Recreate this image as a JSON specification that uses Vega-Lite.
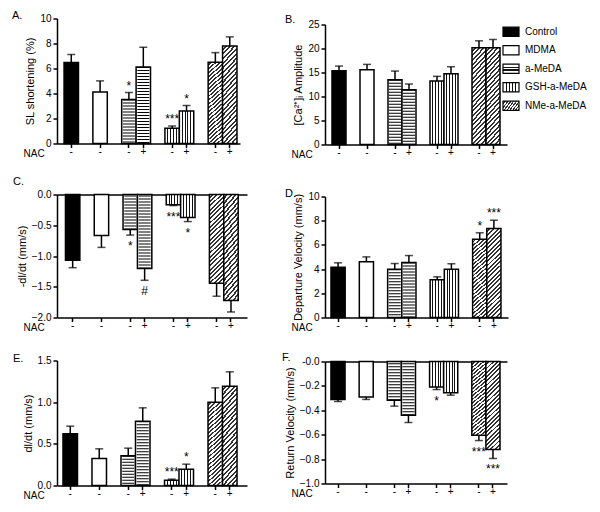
{
"$schema":"https://vega.github.io/schema/vega-lite/v6.json",
"background":"white",
"padding":{"left":12,"top":8.5,"right":5,"bottom":5},
"spacing":35,
"config":{
 "font":"Liberation Sans",
 "view":{"stroke":null},
 "axis":{"domainColor":"#000","domainWidth":1.5,"tickColor":"#000","tickWidth":1.5,"labelColor":"#000","labelFontSize":10,"titleColor":"#000","titleFontSize":11,"titleFontWeight":"normal","grid":false,"labelFont":"Liberation Sans","titleFont":"Liberation Sans"},
 "axisX":{"labelAngle":0,"titleAngle":0,"titleAlign":"left","titleBaseline":"middle","titleX":-34,"titleY":10,"titleFontSize":10,"tickSize":4,"labelPadding":4,"labelBaseline":"middle"},
 "axisY":{"tickSize":4,"labelPadding":2,"titlePadding":4},
 "title":{"anchor":"start","frame":"group","fontSize":11,"fontWeight":"normal","font":"Liberation Sans","color":"#000"}
},
"hconcat":[
 {"spacing":0,"vconcat":[
  {"width":1,"height":1,"data":{"values":[]},"mark":"point"},
  {"spacing":20,"vconcat":[
  {"spacing":17,"vconcat":[
   {
    "title":{"text":"A.","dx":-45,"offset":-7.4},
    "width":183,"height":125,
    "data":{"values":[
     {"grp":"Control","cat":"Control -","value":6.48,"cap":7.12},
     {"grp":"MDMA","cat":"MDMA -","value":4.13,"cap":5.01},
     {"grp":"a-MeDA","cat":"a-MeDA -","value":3.52,"cap":4.08,"sig":"*"},
     {"grp":"a-MeDA","cat":"a-MeDA +","value":6.13,"cap":7.7},
     {"grp":"GSH-a-MeDA","cat":"GSH-a-MeDA -","value":1.22,"cap":1.4,"sig":"***"},
     {"grp":"GSH-a-MeDA","cat":"GSH-a-MeDA +","value":2.6,"cap":3.04,"sig":"*"},
     {"grp":"NMe-a-MeDA","cat":"NMe-a-MeDA -","value":6.5,"cap":7.27},
     {"grp":"NMe-a-MeDA","cat":"NMe-a-MeDA +","value":7.8,"cap":8.53}
    ]},
    "encoding":{
     "x":{"field":"cat","type":"nominal","scale":{"domain":["Control -","g1","MDMA -","g2","a-MeDA -","a-MeDA +","g3","GSH-a-MeDA -","GSH-a-MeDA +","g4","NMe-a-MeDA -","NMe-a-MeDA +"],"paddingInner":0,"paddingOuter":0.35,"align":0.7},"axis":{"values":["Control -","MDMA -","a-MeDA -","a-MeDA +","GSH-a-MeDA -","GSH-a-MeDA +","NMe-a-MeDA -","NMe-a-MeDA +"],"labelExpr":"slice(datum.value,-1)","title":"NAC"}},
     "y":{"field":"value","type":"quantitative","scale":{"domain":[0,10],"nice":false},"axis":{"values":[0,2,4,6,8,10],"title":"SL shortening (%)"}}
    },
    "layer":[
     {"transform":[{"filter":"datum.grp=='Control' || datum.grp=='MDMA' || datum.grp=='a-MeDA'"}],"mark":{"type":"bar","stroke":"#000","strokeWidth":1.5},"encoding":{"fill":{"condition":{"test":"datum.grp=='Control'","value":"#000"},"value":"#fff"}}},
     {"transform":[{"filter":"datum.grp=='GSH-a-MeDA'"}],"mark":{"type":"bar","stroke":"#000","strokeWidth":1.5,"fill":{"gradient":"linear","x1":0,"y1":0,"x2":1,"y2":0,"stops":[{"offset":0,"color":"#fff"},{"offset":0.165,"color":"#fff"},{"offset":0.165,"color":"#111"},{"offset":0.235,"color":"#111"},{"offset":0.235,"color":"#fff"},{"offset":0.365,"color":"#fff"},{"offset":0.365,"color":"#111"},{"offset":0.435,"color":"#111"},{"offset":0.435,"color":"#fff"},{"offset":0.565,"color":"#fff"},{"offset":0.565,"color":"#111"},{"offset":0.635,"color":"#111"},{"offset":0.635,"color":"#fff"},{"offset":0.765,"color":"#fff"},{"offset":0.765,"color":"#111"},{"offset":0.835,"color":"#111"},{"offset":0.835,"color":"#fff"},{"offset":1,"color":"#fff"}]}}},
     {"transform":[{"filter":"datum.grp=='NMe-a-MeDA'"}],"mark":{"type":"bar","stroke":"#000","strokeWidth":1.5,"fill":{"gradient":"linear","x1":0,"y1":0,"x2":0.178,"y2":1.13,"stops":[{"offset":0,"color":"#fff"},{"offset":0.0229,"color":"#fff"},{"offset":0.0229,"color":"#333"},{"offset":0.0417,"color":"#333"},{"offset":0.0417,"color":"#fff"},{"offset":0.0646,"color":"#fff"},{"offset":0.0646,"color":"#333"},{"offset":0.0833,"color":"#333"},{"offset":0.0833,"color":"#fff"},{"offset":0.1063,"color":"#fff"},{"offset":0.1063,"color":"#333"},{"offset":0.125,"color":"#333"},{"offset":0.125,"color":"#fff"},{"offset":0.1479,"color":"#fff"},{"offset":0.1479,"color":"#333"},{"offset":0.1667,"color":"#333"},{"offset":0.1667,"color":"#fff"},{"offset":0.1896,"color":"#fff"},{"offset":0.1896,"color":"#333"},{"offset":0.2083,"color":"#333"},{"offset":0.2083,"color":"#fff"},{"offset":0.2313,"color":"#fff"},{"offset":0.2313,"color":"#333"},{"offset":0.25,"color":"#333"},{"offset":0.25,"color":"#fff"},{"offset":0.2729,"color":"#fff"},{"offset":0.2729,"color":"#333"},{"offset":0.2917,"color":"#333"},{"offset":0.2917,"color":"#fff"},{"offset":0.3146,"color":"#fff"},{"offset":0.3146,"color":"#333"},{"offset":0.3333,"color":"#333"},{"offset":0.3333,"color":"#fff"},{"offset":0.3563,"color":"#fff"},{"offset":0.3563,"color":"#333"},{"offset":0.375,"color":"#333"},{"offset":0.375,"color":"#fff"},{"offset":0.3979,"color":"#fff"},{"offset":0.3979,"color":"#333"},{"offset":0.4167,"color":"#333"},{"offset":0.4167,"color":"#fff"},{"offset":0.4396,"color":"#fff"},{"offset":0.4396,"color":"#333"},{"offset":0.4583,"color":"#333"},{"offset":0.4583,"color":"#fff"},{"offset":0.4813,"color":"#fff"},{"offset":0.4813,"color":"#333"},{"offset":0.5,"color":"#333"},{"offset":0.5,"color":"#fff"},{"offset":0.5229,"color":"#fff"},{"offset":0.5229,"color":"#333"},{"offset":0.5417,"color":"#333"},{"offset":0.5417,"color":"#fff"},{"offset":0.5646,"color":"#fff"},{"offset":0.5646,"color":"#333"},{"offset":0.5833,"color":"#333"},{"offset":0.5833,"color":"#fff"},{"offset":0.6063,"color":"#fff"},{"offset":0.6063,"color":"#333"},{"offset":0.625,"color":"#333"},{"offset":0.625,"color":"#fff"},{"offset":0.6479,"color":"#fff"},{"offset":0.6479,"color":"#333"},{"offset":0.6667,"color":"#333"},{"offset":0.6667,"color":"#fff"},{"offset":0.6896,"color":"#fff"},{"offset":0.6896,"color":"#333"},{"offset":0.7083,"color":"#333"},{"offset":0.7083,"color":"#fff"},{"offset":0.7313,"color":"#fff"},{"offset":0.7313,"color":"#333"},{"offset":0.75,"color":"#333"},{"offset":0.75,"color":"#fff"},{"offset":0.7729,"color":"#fff"},{"offset":0.7729,"color":"#333"},{"offset":0.7917,"color":"#333"},{"offset":0.7917,"color":"#fff"},{"offset":0.8146,"color":"#fff"},{"offset":0.8146,"color":"#333"},{"offset":0.8333,"color":"#333"},{"offset":0.8333,"color":"#fff"},{"offset":0.8563,"color":"#fff"},{"offset":0.8563,"color":"#333"},{"offset":0.875,"color":"#333"},{"offset":0.875,"color":"#fff"},{"offset":0.8979,"color":"#fff"},{"offset":0.8979,"color":"#333"},{"offset":0.9167,"color":"#333"},{"offset":0.9167,"color":"#fff"},{"offset":0.9396,"color":"#fff"},{"offset":0.9396,"color":"#333"},{"offset":0.9583,"color":"#333"},{"offset":0.9583,"color":"#fff"},{"offset":0.9813,"color":"#fff"},{"offset":0.9813,"color":"#333"},{"offset":1,"color":"#333"}]}}},
     {"transform":[{"filter":"datum.grp=='a-MeDA'"}],"mark":{"type":"rule","color":"#000","strokeWidth":12,"strokeDash":[1,2]},"encoding":{"y2":{"datum":0}}},
     {"mark":{"type":"rule","color":"#000","strokeWidth":1.5},"encoding":{"y2":{"field":"cap"}}},
     {"mark":{"type":"tick","color":"#000","thickness":1.5,"size":8},"encoding":{"y":{"field":"cap","type":"quantitative","title":"SL shortening (%)"}}},
     {"transform":[{"filter":"datum.sig"}],"mark":{"type":"text","dy":-3,"fontSize":12,"baseline":"alphabetic","color":"#000"},"encoding":{"y":{"field":"cap","type":"quantitative","title":"SL shortening (%)"},"text":{"field":"sig"}}}
    ]
   },
   {
    "title":{"text":"C.","dx":-44,"offset":1.8},
    "width":190,"height":123,
    "data":{"values":[
     {"grp":"Control","cat":"Control -","value":-1.07,"cap":-1.19},
     {"grp":"MDMA","cat":"MDMA -","value":-0.665,"cap":-0.86},
     {"grp":"a-MeDA","cat":"a-MeDA -","value":-0.57,"cap":-0.66,"sig":"*"},
     {"grp":"a-MeDA","cat":"a-MeDA +","value":-1.205,"cap":-1.395,"sig":"#"},
     {"grp":"GSH-a-MeDA","cat":"GSH-a-MeDA -","value":-0.165,"cap":-0.18,"sig":"***"},
     {"grp":"GSH-a-MeDA","cat":"GSH-a-MeDA +","value":-0.372,"cap":-0.44,"sig":"*"},
     {"grp":"NMe-a-MeDA","cat":"NMe-a-MeDA -","value":-1.443,"cap":-1.654},
     {"grp":"NMe-a-MeDA","cat":"NMe-a-MeDA +","value":-1.725,"cap":-1.91}
    ]},
    "encoding":{
     "x":{"field":"cat","type":"nominal","scale":{"domain":["Control -","g1","MDMA -","g2","a-MeDA -","a-MeDA +","g3","GSH-a-MeDA -","GSH-a-MeDA +","g4","NMe-a-MeDA -","NMe-a-MeDA +"],"paddingInner":0,"paddingOuter":0.6,"align":0.49},"axis":{"values":["Control -","MDMA -","a-MeDA -","a-MeDA +","GSH-a-MeDA -","GSH-a-MeDA +","NMe-a-MeDA -","NMe-a-MeDA +"],"labelExpr":"slice(datum.value,-1)","title":"NAC"}},
     "y":{"field":"value","type":"quantitative","scale":{"domain":[-2,0],"nice":false},"axis":{"values":[0,-0.5,-1,-1.5,-2],"format":".1f","title":"-dl/dt (mm/s)","grid":true,"gridWidth":1.5,"gridColor":{"condition":{"test":"datum.value === 0","value":"#000"},"value":"transparent"}}}
    },
    "layer":[
     {"transform":[{"filter":"datum.grp=='Control' || datum.grp=='MDMA' || datum.grp=='a-MeDA'"}],"mark":{"type":"bar","stroke":"#000","strokeWidth":1.5},"encoding":{"fill":{"condition":{"test":"datum.grp=='Control'","value":"#000"},"value":"#fff"}}},
     {"transform":[{"filter":"datum.grp=='GSH-a-MeDA'"}],"mark":{"type":"bar","stroke":"#000","strokeWidth":1.5,"fill":{"gradient":"linear","x1":0,"y1":0,"x2":1,"y2":0,"stops":[{"offset":0,"color":"#fff"},{"offset":0.165,"color":"#fff"},{"offset":0.165,"color":"#111"},{"offset":0.235,"color":"#111"},{"offset":0.235,"color":"#fff"},{"offset":0.365,"color":"#fff"},{"offset":0.365,"color":"#111"},{"offset":0.435,"color":"#111"},{"offset":0.435,"color":"#fff"},{"offset":0.565,"color":"#fff"},{"offset":0.565,"color":"#111"},{"offset":0.635,"color":"#111"},{"offset":0.635,"color":"#fff"},{"offset":0.765,"color":"#fff"},{"offset":0.765,"color":"#111"},{"offset":0.835,"color":"#111"},{"offset":0.835,"color":"#fff"},{"offset":1,"color":"#fff"}]}}},
     {"transform":[{"filter":"datum.grp=='NMe-a-MeDA'"}],"mark":{"type":"bar","stroke":"#000","strokeWidth":1.5,"fill":{"gradient":"linear","x1":0,"y1":0,"x2":0.178,"y2":1.13,"stops":[{"offset":0,"color":"#fff"},{"offset":0.0229,"color":"#fff"},{"offset":0.0229,"color":"#333"},{"offset":0.0417,"color":"#333"},{"offset":0.0417,"color":"#fff"},{"offset":0.0646,"color":"#fff"},{"offset":0.0646,"color":"#333"},{"offset":0.0833,"color":"#333"},{"offset":0.0833,"color":"#fff"},{"offset":0.1063,"color":"#fff"},{"offset":0.1063,"color":"#333"},{"offset":0.125,"color":"#333"},{"offset":0.125,"color":"#fff"},{"offset":0.1479,"color":"#fff"},{"offset":0.1479,"color":"#333"},{"offset":0.1667,"color":"#333"},{"offset":0.1667,"color":"#fff"},{"offset":0.1896,"color":"#fff"},{"offset":0.1896,"color":"#333"},{"offset":0.2083,"color":"#333"},{"offset":0.2083,"color":"#fff"},{"offset":0.2313,"color":"#fff"},{"offset":0.2313,"color":"#333"},{"offset":0.25,"color":"#333"},{"offset":0.25,"color":"#fff"},{"offset":0.2729,"color":"#fff"},{"offset":0.2729,"color":"#333"},{"offset":0.2917,"color":"#333"},{"offset":0.2917,"color":"#fff"},{"offset":0.3146,"color":"#fff"},{"offset":0.3146,"color":"#333"},{"offset":0.3333,"color":"#333"},{"offset":0.3333,"color":"#fff"},{"offset":0.3563,"color":"#fff"},{"offset":0.3563,"color":"#333"},{"offset":0.375,"color":"#333"},{"offset":0.375,"color":"#fff"},{"offset":0.3979,"color":"#fff"},{"offset":0.3979,"color":"#333"},{"offset":0.4167,"color":"#333"},{"offset":0.4167,"color":"#fff"},{"offset":0.4396,"color":"#fff"},{"offset":0.4396,"color":"#333"},{"offset":0.4583,"color":"#333"},{"offset":0.4583,"color":"#fff"},{"offset":0.4813,"color":"#fff"},{"offset":0.4813,"color":"#333"},{"offset":0.5,"color":"#333"},{"offset":0.5,"color":"#fff"},{"offset":0.5229,"color":"#fff"},{"offset":0.5229,"color":"#333"},{"offset":0.5417,"color":"#333"},{"offset":0.5417,"color":"#fff"},{"offset":0.5646,"color":"#fff"},{"offset":0.5646,"color":"#333"},{"offset":0.5833,"color":"#333"},{"offset":0.5833,"color":"#fff"},{"offset":0.6063,"color":"#fff"},{"offset":0.6063,"color":"#333"},{"offset":0.625,"color":"#333"},{"offset":0.625,"color":"#fff"},{"offset":0.6479,"color":"#fff"},{"offset":0.6479,"color":"#333"},{"offset":0.6667,"color":"#333"},{"offset":0.6667,"color":"#fff"},{"offset":0.6896,"color":"#fff"},{"offset":0.6896,"color":"#333"},{"offset":0.7083,"color":"#333"},{"offset":0.7083,"color":"#fff"},{"offset":0.7313,"color":"#fff"},{"offset":0.7313,"color":"#333"},{"offset":0.75,"color":"#333"},{"offset":0.75,"color":"#fff"},{"offset":0.7729,"color":"#fff"},{"offset":0.7729,"color":"#333"},{"offset":0.7917,"color":"#333"},{"offset":0.7917,"color":"#fff"},{"offset":0.8146,"color":"#fff"},{"offset":0.8146,"color":"#333"},{"offset":0.8333,"color":"#333"},{"offset":0.8333,"color":"#fff"},{"offset":0.8563,"color":"#fff"},{"offset":0.8563,"color":"#333"},{"offset":0.875,"color":"#333"},{"offset":0.875,"color":"#fff"},{"offset":0.8979,"color":"#fff"},{"offset":0.8979,"color":"#333"},{"offset":0.9167,"color":"#333"},{"offset":0.9167,"color":"#fff"},{"offset":0.9396,"color":"#fff"},{"offset":0.9396,"color":"#333"},{"offset":0.9583,"color":"#333"},{"offset":0.9583,"color":"#fff"},{"offset":0.9813,"color":"#fff"},{"offset":0.9813,"color":"#333"},{"offset":1,"color":"#333"}]}}},
     {"transform":[{"filter":"datum.grp=='a-MeDA'"}],"mark":{"type":"rule","color":"#000","strokeWidth":12,"strokeDash":[1,2]},"encoding":{"y2":{"datum":0}}},
     {"mark":{"type":"rule","color":"#000","strokeWidth":1.5},"encoding":{"y2":{"field":"cap"}}},
     {"mark":{"type":"tick","color":"#000","thickness":1.5,"size":8},"encoding":{"y":{"field":"cap","type":"quantitative","title":"-dl/dt (mm/s)"}}},
     {"transform":[{"filter":"datum.sig"}],"mark":{"type":"text","dy":15,"fontSize":12,"baseline":"alphabetic","color":"#000"},"encoding":{"y":{"field":"cap","type":"quantitative","title":"-dl/dt (mm/s)"},"text":{"field":"sig"}}}
    ]
   }
  ]},
  {
   "title":{"text":"E.","dx":-44,"offset":-8.9},
   "width":190,"height":125,
   "data":{"values":[
    {"grp":"Control","cat":"Control -","value":0.62,"cap":0.712},
    {"grp":"MDMA","cat":"MDMA -","value":0.324,"cap":0.44},
    {"grp":"a-MeDA","cat":"a-MeDA -","value":0.356,"cap":0.448},
    {"grp":"a-MeDA","cat":"a-MeDA +","value":0.772,"cap":0.932},
    {"grp":"GSH-a-MeDA","cat":"GSH-a-MeDA -","value":0.064,"cap":0.076,"sig":"***"},
    {"grp":"GSH-a-MeDA","cat":"GSH-a-MeDA +","value":0.196,"cap":0.256,"sig":"*"},
    {"grp":"NMe-a-MeDA","cat":"NMe-a-MeDA -","value":1.0,"cap":1.172},
    {"grp":"NMe-a-MeDA","cat":"NMe-a-MeDA +","value":1.192,"cap":1.364}
   ]},
   "encoding":{
    "x":{"field":"cat","type":"nominal","scale":{"domain":["Control -","g1","MDMA -","g2","a-MeDA -","a-MeDA +","g3","GSH-a-MeDA -","GSH-a-MeDA +","g4","NMe-a-MeDA -","NMe-a-MeDA +"],"paddingInner":0,"paddingOuter":0.55,"align":0.375},"axis":{"values":["Control -","MDMA -","a-MeDA -","a-MeDA +","GSH-a-MeDA -","GSH-a-MeDA +","NMe-a-MeDA -","NMe-a-MeDA +"],"labelExpr":"slice(datum.value,-1)","title":"NAC"}},
    "y":{"field":"value","type":"quantitative","scale":{"domain":[0,1.5],"nice":false},"axis":{"values":[0,0.5,1,1.5],"format":".1f","title":"dl/dt (mm/s)"}}
   },
   "layer":[
    {"transform":[{"filter":"datum.grp=='Control' || datum.grp=='MDMA' || datum.grp=='a-MeDA'"}],"mark":{"type":"bar","stroke":"#000","strokeWidth":1.5},"encoding":{"fill":{"condition":{"test":"datum.grp=='Control'","value":"#000"},"value":"#fff"}}},
    {"transform":[{"filter":"datum.grp=='GSH-a-MeDA'"}],"mark":{"type":"bar","stroke":"#000","strokeWidth":1.5,"fill":{"gradient":"linear","x1":0,"y1":0,"x2":1,"y2":0,"stops":[{"offset":0,"color":"#fff"},{"offset":0.165,"color":"#fff"},{"offset":0.165,"color":"#111"},{"offset":0.235,"color":"#111"},{"offset":0.235,"color":"#fff"},{"offset":0.365,"color":"#fff"},{"offset":0.365,"color":"#111"},{"offset":0.435,"color":"#111"},{"offset":0.435,"color":"#fff"},{"offset":0.565,"color":"#fff"},{"offset":0.565,"color":"#111"},{"offset":0.635,"color":"#111"},{"offset":0.635,"color":"#fff"},{"offset":0.765,"color":"#fff"},{"offset":0.765,"color":"#111"},{"offset":0.835,"color":"#111"},{"offset":0.835,"color":"#fff"},{"offset":1,"color":"#fff"}]}}},
    {"transform":[{"filter":"datum.grp=='NMe-a-MeDA'"}],"mark":{"type":"bar","stroke":"#000","strokeWidth":1.5,"fill":{"gradient":"linear","x1":0,"y1":0,"x2":0.178,"y2":1.13,"stops":[{"offset":0,"color":"#fff"},{"offset":0.0229,"color":"#fff"},{"offset":0.0229,"color":"#333"},{"offset":0.0417,"color":"#333"},{"offset":0.0417,"color":"#fff"},{"offset":0.0646,"color":"#fff"},{"offset":0.0646,"color":"#333"},{"offset":0.0833,"color":"#333"},{"offset":0.0833,"color":"#fff"},{"offset":0.1063,"color":"#fff"},{"offset":0.1063,"color":"#333"},{"offset":0.125,"color":"#333"},{"offset":0.125,"color":"#fff"},{"offset":0.1479,"color":"#fff"},{"offset":0.1479,"color":"#333"},{"offset":0.1667,"color":"#333"},{"offset":0.1667,"color":"#fff"},{"offset":0.1896,"color":"#fff"},{"offset":0.1896,"color":"#333"},{"offset":0.2083,"color":"#333"},{"offset":0.2083,"color":"#fff"},{"offset":0.2313,"color":"#fff"},{"offset":0.2313,"color":"#333"},{"offset":0.25,"color":"#333"},{"offset":0.25,"color":"#fff"},{"offset":0.2729,"color":"#fff"},{"offset":0.2729,"color":"#333"},{"offset":0.2917,"color":"#333"},{"offset":0.2917,"color":"#fff"},{"offset":0.3146,"color":"#fff"},{"offset":0.3146,"color":"#333"},{"offset":0.3333,"color":"#333"},{"offset":0.3333,"color":"#fff"},{"offset":0.3563,"color":"#fff"},{"offset":0.3563,"color":"#333"},{"offset":0.375,"color":"#333"},{"offset":0.375,"color":"#fff"},{"offset":0.3979,"color":"#fff"},{"offset":0.3979,"color":"#333"},{"offset":0.4167,"color":"#333"},{"offset":0.4167,"color":"#fff"},{"offset":0.4396,"color":"#fff"},{"offset":0.4396,"color":"#333"},{"offset":0.4583,"color":"#333"},{"offset":0.4583,"color":"#fff"},{"offset":0.4813,"color":"#fff"},{"offset":0.4813,"color":"#333"},{"offset":0.5,"color":"#333"},{"offset":0.5,"color":"#fff"},{"offset":0.5229,"color":"#fff"},{"offset":0.5229,"color":"#333"},{"offset":0.5417,"color":"#333"},{"offset":0.5417,"color":"#fff"},{"offset":0.5646,"color":"#fff"},{"offset":0.5646,"color":"#333"},{"offset":0.5833,"color":"#333"},{"offset":0.5833,"color":"#fff"},{"offset":0.6063,"color":"#fff"},{"offset":0.6063,"color":"#333"},{"offset":0.625,"color":"#333"},{"offset":0.625,"color":"#fff"},{"offset":0.6479,"color":"#fff"},{"offset":0.6479,"color":"#333"},{"offset":0.6667,"color":"#333"},{"offset":0.6667,"color":"#fff"},{"offset":0.6896,"color":"#fff"},{"offset":0.6896,"color":"#333"},{"offset":0.7083,"color":"#333"},{"offset":0.7083,"color":"#fff"},{"offset":0.7313,"color":"#fff"},{"offset":0.7313,"color":"#333"},{"offset":0.75,"color":"#333"},{"offset":0.75,"color":"#fff"},{"offset":0.7729,"color":"#fff"},{"offset":0.7729,"color":"#333"},{"offset":0.7917,"color":"#333"},{"offset":0.7917,"color":"#fff"},{"offset":0.8146,"color":"#fff"},{"offset":0.8146,"color":"#333"},{"offset":0.8333,"color":"#333"},{"offset":0.8333,"color":"#fff"},{"offset":0.8563,"color":"#fff"},{"offset":0.8563,"color":"#333"},{"offset":0.875,"color":"#333"},{"offset":0.875,"color":"#fff"},{"offset":0.8979,"color":"#fff"},{"offset":0.8979,"color":"#333"},{"offset":0.9167,"color":"#333"},{"offset":0.9167,"color":"#fff"},{"offset":0.9396,"color":"#fff"},{"offset":0.9396,"color":"#333"},{"offset":0.9583,"color":"#333"},{"offset":0.9583,"color":"#fff"},{"offset":0.9813,"color":"#fff"},{"offset":0.9813,"color":"#333"},{"offset":1,"color":"#333"}]}}},
    {"transform":[{"filter":"datum.grp=='a-MeDA'"}],"mark":{"type":"rule","color":"#000","strokeWidth":12,"strokeDash":[1,2]},"encoding":{"y2":{"datum":0}}},
    {"mark":{"type":"rule","color":"#000","strokeWidth":1.5},"encoding":{"y2":{"field":"cap"}}},
    {"mark":{"type":"tick","color":"#000","thickness":1.5,"size":8},"encoding":{"y":{"field":"cap","type":"quantitative","title":"dl/dt (mm/s)"}}},
    {"transform":[{"filter":"datum.sig"}],"mark":{"type":"text","dy":-3,"fontSize":12,"baseline":"alphabetic","color":"#000"},"encoding":{"y":{"field":"cap","type":"quantitative","title":"dl/dt (mm/s)"},"text":{"field":"sig"}}}
   ]
  }
 ]}
 ]},
 {"spacing":0,"vconcat":[
  {"width":1,"height":5,"data":{"values":[]},"mark":"point"},
  {"spacing":19,"vconcat":[
  {"spacing":28,"vconcat":[
    {
     "title":{"text":"B.","dx":-40,"offset":-5.8},
     "width":182,"height":120,
     "resolve":{"scale":{"x":"independent","y":"independent"}},
     "layer":[
      {
       "data":{"values":[
        {"grp":"Control","cat":"Control -","value":15.37,"cap":16.34},
        {"grp":"MDMA","cat":"MDMA -","value":15.58,"cap":16.69},
        {"grp":"a-MeDA","cat":"a-MeDA -","value":13.5,"cap":15.3},
        {"grp":"a-MeDA","cat":"a-MeDA +","value":11.43,"cap":12.6},
        {"grp":"GSH-a-MeDA","cat":"GSH-a-MeDA -","value":13.23,"cap":14.2},
        {"grp":"GSH-a-MeDA","cat":"GSH-a-MeDA +","value":14.75,"cap":16.2},
        {"grp":"NMe-a-MeDA","cat":"NMe-a-MeDA -","value":20.15,"cap":21.6},
        {"grp":"NMe-a-MeDA","cat":"NMe-a-MeDA +","value":20.15,"cap":21.88}
       ]},
       "encoding":{
        "x":{"field":"cat","type":"nominal","scale":{"domain":["Control -","g1","MDMA -","g2","a-MeDA -","a-MeDA +","g3","GSH-a-MeDA -","GSH-a-MeDA +","g4","NMe-a-MeDA -","NMe-a-MeDA +"],"paddingInner":0,"paddingOuter":0.5,"align":0.5},"axis":{"values":["Control -","MDMA -","a-MeDA -","a-MeDA +","GSH-a-MeDA -","GSH-a-MeDA +","NMe-a-MeDA -","NMe-a-MeDA +"],"labelExpr":"slice(datum.value,-1)","title":"NAC"}},
        "y":{"field":"value","type":"quantitative","scale":{"domain":[0,25],"nice":false},"axis":{"values":[0,5,10,15,20,25],"title":"[Ca²⁺]ᵢ Amplitude"}}
       },
       "layer":[
        {"transform":[{"filter":"datum.grp=='Control' || datum.grp=='MDMA' || datum.grp=='a-MeDA'"}],"mark":{"type":"bar","stroke":"#000","strokeWidth":1.5},"encoding":{"fill":{"condition":{"test":"datum.grp=='Control'","value":"#000"},"value":"#fff"}}},
        {"transform":[{"filter":"datum.grp=='GSH-a-MeDA'"}],"mark":{"type":"bar","stroke":"#000","strokeWidth":1.5,"fill":{"gradient":"linear","x1":0,"y1":0,"x2":1,"y2":0,"stops":[{"offset":0,"color":"#fff"},{"offset":0.165,"color":"#fff"},{"offset":0.165,"color":"#111"},{"offset":0.235,"color":"#111"},{"offset":0.235,"color":"#fff"},{"offset":0.365,"color":"#fff"},{"offset":0.365,"color":"#111"},{"offset":0.435,"color":"#111"},{"offset":0.435,"color":"#fff"},{"offset":0.565,"color":"#fff"},{"offset":0.565,"color":"#111"},{"offset":0.635,"color":"#111"},{"offset":0.635,"color":"#fff"},{"offset":0.765,"color":"#fff"},{"offset":0.765,"color":"#111"},{"offset":0.835,"color":"#111"},{"offset":0.835,"color":"#fff"},{"offset":1,"color":"#fff"}]}}},
        {"transform":[{"filter":"datum.grp=='NMe-a-MeDA'"}],"mark":{"type":"bar","stroke":"#000","strokeWidth":1.5,"fill":{"gradient":"linear","x1":0,"y1":0,"x2":0.178,"y2":1.13,"stops":[{"offset":0,"color":"#fff"},{"offset":0.0229,"color":"#fff"},{"offset":0.0229,"color":"#333"},{"offset":0.0417,"color":"#333"},{"offset":0.0417,"color":"#fff"},{"offset":0.0646,"color":"#fff"},{"offset":0.0646,"color":"#333"},{"offset":0.0833,"color":"#333"},{"offset":0.0833,"color":"#fff"},{"offset":0.1063,"color":"#fff"},{"offset":0.1063,"color":"#333"},{"offset":0.125,"color":"#333"},{"offset":0.125,"color":"#fff"},{"offset":0.1479,"color":"#fff"},{"offset":0.1479,"color":"#333"},{"offset":0.1667,"color":"#333"},{"offset":0.1667,"color":"#fff"},{"offset":0.1896,"color":"#fff"},{"offset":0.1896,"color":"#333"},{"offset":0.2083,"color":"#333"},{"offset":0.2083,"color":"#fff"},{"offset":0.2313,"color":"#fff"},{"offset":0.2313,"color":"#333"},{"offset":0.25,"color":"#333"},{"offset":0.25,"color":"#fff"},{"offset":0.2729,"color":"#fff"},{"offset":0.2729,"color":"#333"},{"offset":0.2917,"color":"#333"},{"offset":0.2917,"color":"#fff"},{"offset":0.3146,"color":"#fff"},{"offset":0.3146,"color":"#333"},{"offset":0.3333,"color":"#333"},{"offset":0.3333,"color":"#fff"},{"offset":0.3563,"color":"#fff"},{"offset":0.3563,"color":"#333"},{"offset":0.375,"color":"#333"},{"offset":0.375,"color":"#fff"},{"offset":0.3979,"color":"#fff"},{"offset":0.3979,"color":"#333"},{"offset":0.4167,"color":"#333"},{"offset":0.4167,"color":"#fff"},{"offset":0.4396,"color":"#fff"},{"offset":0.4396,"color":"#333"},{"offset":0.4583,"color":"#333"},{"offset":0.4583,"color":"#fff"},{"offset":0.4813,"color":"#fff"},{"offset":0.4813,"color":"#333"},{"offset":0.5,"color":"#333"},{"offset":0.5,"color":"#fff"},{"offset":0.5229,"color":"#fff"},{"offset":0.5229,"color":"#333"},{"offset":0.5417,"color":"#333"},{"offset":0.5417,"color":"#fff"},{"offset":0.5646,"color":"#fff"},{"offset":0.5646,"color":"#333"},{"offset":0.5833,"color":"#333"},{"offset":0.5833,"color":"#fff"},{"offset":0.6063,"color":"#fff"},{"offset":0.6063,"color":"#333"},{"offset":0.625,"color":"#333"},{"offset":0.625,"color":"#fff"},{"offset":0.6479,"color":"#fff"},{"offset":0.6479,"color":"#333"},{"offset":0.6667,"color":"#333"},{"offset":0.6667,"color":"#fff"},{"offset":0.6896,"color":"#fff"},{"offset":0.6896,"color":"#333"},{"offset":0.7083,"color":"#333"},{"offset":0.7083,"color":"#fff"},{"offset":0.7313,"color":"#fff"},{"offset":0.7313,"color":"#333"},{"offset":0.75,"color":"#333"},{"offset":0.75,"color":"#fff"},{"offset":0.7729,"color":"#fff"},{"offset":0.7729,"color":"#333"},{"offset":0.7917,"color":"#333"},{"offset":0.7917,"color":"#fff"},{"offset":0.8146,"color":"#fff"},{"offset":0.8146,"color":"#333"},{"offset":0.8333,"color":"#333"},{"offset":0.8333,"color":"#fff"},{"offset":0.8563,"color":"#fff"},{"offset":0.8563,"color":"#333"},{"offset":0.875,"color":"#333"},{"offset":0.875,"color":"#fff"},{"offset":0.8979,"color":"#fff"},{"offset":0.8979,"color":"#333"},{"offset":0.9167,"color":"#333"},{"offset":0.9167,"color":"#fff"},{"offset":0.9396,"color":"#fff"},{"offset":0.9396,"color":"#333"},{"offset":0.9583,"color":"#333"},{"offset":0.9583,"color":"#fff"},{"offset":0.9813,"color":"#fff"},{"offset":0.9813,"color":"#333"},{"offset":1,"color":"#333"}]}}},
        {"transform":[{"filter":"datum.grp=='a-MeDA'"}],"mark":{"type":"rule","color":"#000","strokeWidth":12,"strokeDash":[1,2]},"encoding":{"y2":{"datum":0}}},
        {"mark":{"type":"rule","color":"#000","strokeWidth":1.5},"encoding":{"y2":{"field":"cap"}}},
        {"mark":{"type":"tick","color":"#000","thickness":1.5,"size":8},"encoding":{"y":{"field":"cap","type":"quantitative","title":"[Ca²⁺]ᵢ Amplitude"}}}
       ]
      },
      {
       "data":{"values":[{"grp":"Control"},{"grp":"MDMA"},{"grp":"a-MeDA"},{"grp":"GSH-a-MeDA"},{"grp":"NMe-a-MeDA"}]},
       "encoding":{
        "y":{"field":"grp","type":"nominal","scale":{"domain":["Control","MDMA","a-MeDA","GSH-a-MeDA","NMe-a-MeDA"],"paddingInner":0.5,"paddingOuter":2.036,"align":0.0737},"axis":null},
        "x":{"datum":178,"type":"quantitative","scale":{"domain":[0,182],"nice":false,"zero":false},"axis":null}
       },
       "layer":[
        {"transform":[{"filter":"datum.grp=='Control' || datum.grp=='MDMA'"}],"mark":{"type":"bar","stroke":"#000","strokeWidth":1.2},"encoding":{"x2":{"datum":194},"fill":{"condition":{"test":"datum.grp=='Control'","value":"#000"},"value":"#fff"}}},
        {"transform":[{"filter":"datum.grp=='a-MeDA'"}],"mark":{"type":"bar","stroke":"#000","strokeWidth":1.2,"fill":{"gradient":"linear","x1":0,"y1":0,"x2":0,"y2":1,"stops":[{"offset":0,"color":"#fff"},{"offset":0.3,"color":"#fff"},{"offset":0.3,"color":"#111"},{"offset":0.43,"color":"#111"},{"offset":0.43,"color":"#fff"},{"offset":0.57,"color":"#fff"},{"offset":0.57,"color":"#111"},{"offset":0.7,"color":"#111"},{"offset":0.7,"color":"#fff"},{"offset":1,"color":"#fff"}]}},"encoding":{"x2":{"datum":194}}},
        {"transform":[{"filter":"datum.grp=='GSH-a-MeDA'"}],"mark":{"type":"bar","stroke":"#000","strokeWidth":1.2,"fill":{"gradient":"linear","x1":0,"y1":0,"x2":1,"y2":0,"stops":[{"offset":0,"color":"#fff"},{"offset":0.165,"color":"#fff"},{"offset":0.165,"color":"#111"},{"offset":0.235,"color":"#111"},{"offset":0.235,"color":"#fff"},{"offset":0.365,"color":"#fff"},{"offset":0.365,"color":"#111"},{"offset":0.435,"color":"#111"},{"offset":0.435,"color":"#fff"},{"offset":0.565,"color":"#fff"},{"offset":0.565,"color":"#111"},{"offset":0.635,"color":"#111"},{"offset":0.635,"color":"#fff"},{"offset":0.765,"color":"#fff"},{"offset":0.765,"color":"#111"},{"offset":0.835,"color":"#111"},{"offset":0.835,"color":"#fff"},{"offset":1,"color":"#fff"}]}},"encoding":{"x2":{"datum":194}}},
        {"transform":[{"filter":"datum.grp=='NMe-a-MeDA'"}],"mark":{"type":"bar","stroke":"#000","strokeWidth":1.2,"fill":{"gradient":"linear","x1":0,"y1":0,"x2":1.2066,"y2":0.528,"stops":[{"offset":0,"color":"#fff"},{"offset":0.0688,"color":"#fff"},{"offset":0.0688,"color":"#333"},{"offset":0.125,"color":"#333"},{"offset":0.125,"color":"#fff"},{"offset":0.1938,"color":"#fff"},{"offset":0.1938,"color":"#333"},{"offset":0.25,"color":"#333"},{"offset":0.25,"color":"#fff"},{"offset":0.3188,"color":"#fff"},{"offset":0.3188,"color":"#333"},{"offset":0.375,"color":"#333"},{"offset":0.375,"color":"#fff"},{"offset":0.4438,"color":"#fff"},{"offset":0.4438,"color":"#333"},{"offset":0.5,"color":"#333"},{"offset":0.5,"color":"#fff"},{"offset":0.5688,"color":"#fff"},{"offset":0.5688,"color":"#333"},{"offset":0.625,"color":"#333"},{"offset":0.625,"color":"#fff"},{"offset":0.6938,"color":"#fff"},{"offset":0.6938,"color":"#333"},{"offset":0.75,"color":"#333"},{"offset":0.75,"color":"#fff"},{"offset":0.8188,"color":"#fff"},{"offset":0.8188,"color":"#333"},{"offset":0.875,"color":"#333"},{"offset":0.875,"color":"#fff"},{"offset":0.9438,"color":"#fff"},{"offset":0.9438,"color":"#333"},{"offset":1,"color":"#333"}]}},"encoding":{"x2":{"datum":194}}},
        {"mark":{"type":"text","align":"left","baseline":"middle","fontSize":10,"color":"#000"},"encoding":{"x":{"datum":200,"type":"quantitative"},"text":{"field":"grp"}}}
       ]
      }
     ]
    },
   {
    "title":{"text":"D.","dx":-40,"offset":-7},
    "width":183,"height":121,
    "data":{"values":[
     {"grp":"Control","cat":"Control -","value":4.16,"cap":4.52},
     {"grp":"MDMA","cat":"MDMA -","value":4.6,"cap":5.01},
     {"grp":"a-MeDA","cat":"a-MeDA -","value":3.99,"cap":4.46},
     {"grp":"a-MeDA","cat":"a-MeDA +","value":4.55,"cap":5.12},
     {"grp":"GSH-a-MeDA","cat":"GSH-a-MeDA -","value":3.11,"cap":3.36},
     {"grp":"GSH-a-MeDA","cat":"GSH-a-MeDA +","value":3.99,"cap":4.44},
     {"grp":"NMe-a-MeDA","cat":"NMe-a-MeDA -","value":6.47,"cap":7.0,"sig":"*"},
     {"grp":"NMe-a-MeDA","cat":"NMe-a-MeDA +","value":7.36,"cap":8.04,"sig":"***"}
    ]},
    "encoding":{
     "x":{"field":"cat","type":"nominal","scale":{"domain":["Control -","g1","MDMA -","g2","a-MeDA -","a-MeDA +","g3","GSH-a-MeDA -","GSH-a-MeDA +","g4","NMe-a-MeDA -","NMe-a-MeDA +"],"paddingInner":0,"paddingOuter":0.46,"align":0.46},"axis":{"values":["Control -","MDMA -","a-MeDA -","a-MeDA +","GSH-a-MeDA -","GSH-a-MeDA +","NMe-a-MeDA -","NMe-a-MeDA +"],"labelExpr":"slice(datum.value,-1)","title":"NAC"}},
     "y":{"field":"value","type":"quantitative","scale":{"domain":[0,10],"nice":false},"axis":{"values":[0,2,4,6,8,10],"title":"Departure Velocity (mm/s)"}}
    },
    "layer":[
     {"transform":[{"filter":"datum.grp=='Control' || datum.grp=='MDMA' || datum.grp=='a-MeDA'"}],"mark":{"type":"bar","stroke":"#000","strokeWidth":1.5},"encoding":{"fill":{"condition":{"test":"datum.grp=='Control'","value":"#000"},"value":"#fff"}}},
     {"transform":[{"filter":"datum.grp=='GSH-a-MeDA'"}],"mark":{"type":"bar","stroke":"#000","strokeWidth":1.5,"fill":{"gradient":"linear","x1":0,"y1":0,"x2":1,"y2":0,"stops":[{"offset":0,"color":"#fff"},{"offset":0.165,"color":"#fff"},{"offset":0.165,"color":"#111"},{"offset":0.235,"color":"#111"},{"offset":0.235,"color":"#fff"},{"offset":0.365,"color":"#fff"},{"offset":0.365,"color":"#111"},{"offset":0.435,"color":"#111"},{"offset":0.435,"color":"#fff"},{"offset":0.565,"color":"#fff"},{"offset":0.565,"color":"#111"},{"offset":0.635,"color":"#111"},{"offset":0.635,"color":"#fff"},{"offset":0.765,"color":"#fff"},{"offset":0.765,"color":"#111"},{"offset":0.835,"color":"#111"},{"offset":0.835,"color":"#fff"},{"offset":1,"color":"#fff"}]}}},
     {"transform":[{"filter":"datum.grp=='NMe-a-MeDA'"}],"mark":{"type":"bar","stroke":"#000","strokeWidth":1.5,"fill":{"gradient":"linear","x1":0,"y1":0,"x2":0.178,"y2":1.13,"stops":[{"offset":0,"color":"#fff"},{"offset":0.0229,"color":"#fff"},{"offset":0.0229,"color":"#333"},{"offset":0.0417,"color":"#333"},{"offset":0.0417,"color":"#fff"},{"offset":0.0646,"color":"#fff"},{"offset":0.0646,"color":"#333"},{"offset":0.0833,"color":"#333"},{"offset":0.0833,"color":"#fff"},{"offset":0.1063,"color":"#fff"},{"offset":0.1063,"color":"#333"},{"offset":0.125,"color":"#333"},{"offset":0.125,"color":"#fff"},{"offset":0.1479,"color":"#fff"},{"offset":0.1479,"color":"#333"},{"offset":0.1667,"color":"#333"},{"offset":0.1667,"color":"#fff"},{"offset":0.1896,"color":"#fff"},{"offset":0.1896,"color":"#333"},{"offset":0.2083,"color":"#333"},{"offset":0.2083,"color":"#fff"},{"offset":0.2313,"color":"#fff"},{"offset":0.2313,"color":"#333"},{"offset":0.25,"color":"#333"},{"offset":0.25,"color":"#fff"},{"offset":0.2729,"color":"#fff"},{"offset":0.2729,"color":"#333"},{"offset":0.2917,"color":"#333"},{"offset":0.2917,"color":"#fff"},{"offset":0.3146,"color":"#fff"},{"offset":0.3146,"color":"#333"},{"offset":0.3333,"color":"#333"},{"offset":0.3333,"color":"#fff"},{"offset":0.3563,"color":"#fff"},{"offset":0.3563,"color":"#333"},{"offset":0.375,"color":"#333"},{"offset":0.375,"color":"#fff"},{"offset":0.3979,"color":"#fff"},{"offset":0.3979,"color":"#333"},{"offset":0.4167,"color":"#333"},{"offset":0.4167,"color":"#fff"},{"offset":0.4396,"color":"#fff"},{"offset":0.4396,"color":"#333"},{"offset":0.4583,"color":"#333"},{"offset":0.4583,"color":"#fff"},{"offset":0.4813,"color":"#fff"},{"offset":0.4813,"color":"#333"},{"offset":0.5,"color":"#333"},{"offset":0.5,"color":"#fff"},{"offset":0.5229,"color":"#fff"},{"offset":0.5229,"color":"#333"},{"offset":0.5417,"color":"#333"},{"offset":0.5417,"color":"#fff"},{"offset":0.5646,"color":"#fff"},{"offset":0.5646,"color":"#333"},{"offset":0.5833,"color":"#333"},{"offset":0.5833,"color":"#fff"},{"offset":0.6063,"color":"#fff"},{"offset":0.6063,"color":"#333"},{"offset":0.625,"color":"#333"},{"offset":0.625,"color":"#fff"},{"offset":0.6479,"color":"#fff"},{"offset":0.6479,"color":"#333"},{"offset":0.6667,"color":"#333"},{"offset":0.6667,"color":"#fff"},{"offset":0.6896,"color":"#fff"},{"offset":0.6896,"color":"#333"},{"offset":0.7083,"color":"#333"},{"offset":0.7083,"color":"#fff"},{"offset":0.7313,"color":"#fff"},{"offset":0.7313,"color":"#333"},{"offset":0.75,"color":"#333"},{"offset":0.75,"color":"#fff"},{"offset":0.7729,"color":"#fff"},{"offset":0.7729,"color":"#333"},{"offset":0.7917,"color":"#333"},{"offset":0.7917,"color":"#fff"},{"offset":0.8146,"color":"#fff"},{"offset":0.8146,"color":"#333"},{"offset":0.8333,"color":"#333"},{"offset":0.8333,"color":"#fff"},{"offset":0.8563,"color":"#fff"},{"offset":0.8563,"color":"#333"},{"offset":0.875,"color":"#333"},{"offset":0.875,"color":"#fff"},{"offset":0.8979,"color":"#fff"},{"offset":0.8979,"color":"#333"},{"offset":0.9167,"color":"#333"},{"offset":0.9167,"color":"#fff"},{"offset":0.9396,"color":"#fff"},{"offset":0.9396,"color":"#333"},{"offset":0.9583,"color":"#333"},{"offset":0.9583,"color":"#fff"},{"offset":0.9813,"color":"#fff"},{"offset":0.9813,"color":"#333"},{"offset":1,"color":"#333"}]}}},
     {"transform":[{"filter":"datum.grp=='a-MeDA'"}],"mark":{"type":"rule","color":"#000","strokeWidth":12,"strokeDash":[1,2]},"encoding":{"y2":{"datum":0}}},
     {"mark":{"type":"rule","color":"#000","strokeWidth":1.5},"encoding":{"y2":{"field":"cap"}}},
     {"mark":{"type":"tick","color":"#000","thickness":1.5,"size":8},"encoding":{"y":{"field":"cap","type":"quantitative","title":"Departure Velocity (mm/s)"}}},
     {"transform":[{"filter":"datum.sig"}],"mark":{"type":"text","dy":-3,"fontSize":12,"baseline":"alphabetic","color":"#000"},"encoding":{"y":{"field":"cap","type":"quantitative","title":"Departure Velocity (mm/s)"},"text":{"field":"sig"}}}
    ]
   }
  ]},
  {
   "title":{"text":"F.","dx":-43,"offset":-7.8},
   "width":182,"height":122,
   "data":{"values":[
    {"grp":"Control","cat":"Control -","value":-0.311,"cap":-0.328},
    {"grp":"MDMA","cat":"MDMA -","value":-0.292,"cap":-0.311},
    {"grp":"a-MeDA","cat":"a-MeDA -","value":-0.317,"cap":-0.366},
    {"grp":"a-MeDA","cat":"a-MeDA +","value":-0.44,"cap":-0.5},
    {"grp":"GSH-a-MeDA","cat":"GSH-a-MeDA -","value":-0.21,"cap":-0.23,"sig":"*"},
    {"grp":"GSH-a-MeDA","cat":"GSH-a-MeDA +","value":-0.257,"cap":-0.276},
    {"grp":"NMe-a-MeDA","cat":"NMe-a-MeDA -","value":-0.604,"cap":-0.648,"sig":"***"},
    {"grp":"NMe-a-MeDA","cat":"NMe-a-MeDA +","value":-0.721,"cap":-0.795,"sig":"***"}
   ]},
   "encoding":{
    "x":{"field":"cat","type":"nominal","scale":{"domain":["Control -","g1","MDMA -","g2","a-MeDA -","a-MeDA +","g3","GSH-a-MeDA -","GSH-a-MeDA +","g4","NMe-a-MeDA -","NMe-a-MeDA +"],"paddingInner":0,"paddingOuter":0.46,"align":0.46},"axis":{"values":["Control -","MDMA -","a-MeDA -","a-MeDA +","GSH-a-MeDA -","GSH-a-MeDA +","NMe-a-MeDA -","NMe-a-MeDA +"],"labelExpr":"slice(datum.value,-1)","title":"NAC"}},
    "y":{"field":"value","type":"quantitative","scale":{"domain":[-1,0],"nice":false},"axis":{"values":[0,-0.2,-0.4,-0.6,-0.8,-1],"labelExpr":"datum.value == 0 ? '-0.0' : format(datum.value, '.1f')","title":"Return Velocity (mm/s)","grid":true,"gridWidth":1.5,"gridColor":{"condition":{"test":"datum.value === 0","value":"#000"},"value":"transparent"}}}
   },
   "layer":[
    {"transform":[{"filter":"datum.grp=='Control' || datum.grp=='MDMA' || datum.grp=='a-MeDA'"}],"mark":{"type":"bar","stroke":"#000","strokeWidth":1.5},"encoding":{"fill":{"condition":{"test":"datum.grp=='Control'","value":"#000"},"value":"#fff"}}},
    {"transform":[{"filter":"datum.grp=='GSH-a-MeDA'"}],"mark":{"type":"bar","stroke":"#000","strokeWidth":1.5,"fill":{"gradient":"linear","x1":0,"y1":0,"x2":1,"y2":0,"stops":[{"offset":0,"color":"#fff"},{"offset":0.165,"color":"#fff"},{"offset":0.165,"color":"#111"},{"offset":0.235,"color":"#111"},{"offset":0.235,"color":"#fff"},{"offset":0.365,"color":"#fff"},{"offset":0.365,"color":"#111"},{"offset":0.435,"color":"#111"},{"offset":0.435,"color":"#fff"},{"offset":0.565,"color":"#fff"},{"offset":0.565,"color":"#111"},{"offset":0.635,"color":"#111"},{"offset":0.635,"color":"#fff"},{"offset":0.765,"color":"#fff"},{"offset":0.765,"color":"#111"},{"offset":0.835,"color":"#111"},{"offset":0.835,"color":"#fff"},{"offset":1,"color":"#fff"}]}}},
    {"transform":[{"filter":"datum.grp=='NMe-a-MeDA'"}],"mark":{"type":"bar","stroke":"#000","strokeWidth":1.5,"fill":{"gradient":"linear","x1":0,"y1":0,"x2":0.178,"y2":1.13,"stops":[{"offset":0,"color":"#fff"},{"offset":0.0229,"color":"#fff"},{"offset":0.0229,"color":"#333"},{"offset":0.0417,"color":"#333"},{"offset":0.0417,"color":"#fff"},{"offset":0.0646,"color":"#fff"},{"offset":0.0646,"color":"#333"},{"offset":0.0833,"color":"#333"},{"offset":0.0833,"color":"#fff"},{"offset":0.1063,"color":"#fff"},{"offset":0.1063,"color":"#333"},{"offset":0.125,"color":"#333"},{"offset":0.125,"color":"#fff"},{"offset":0.1479,"color":"#fff"},{"offset":0.1479,"color":"#333"},{"offset":0.1667,"color":"#333"},{"offset":0.1667,"color":"#fff"},{"offset":0.1896,"color":"#fff"},{"offset":0.1896,"color":"#333"},{"offset":0.2083,"color":"#333"},{"offset":0.2083,"color":"#fff"},{"offset":0.2313,"color":"#fff"},{"offset":0.2313,"color":"#333"},{"offset":0.25,"color":"#333"},{"offset":0.25,"color":"#fff"},{"offset":0.2729,"color":"#fff"},{"offset":0.2729,"color":"#333"},{"offset":0.2917,"color":"#333"},{"offset":0.2917,"color":"#fff"},{"offset":0.3146,"color":"#fff"},{"offset":0.3146,"color":"#333"},{"offset":0.3333,"color":"#333"},{"offset":0.3333,"color":"#fff"},{"offset":0.3563,"color":"#fff"},{"offset":0.3563,"color":"#333"},{"offset":0.375,"color":"#333"},{"offset":0.375,"color":"#fff"},{"offset":0.3979,"color":"#fff"},{"offset":0.3979,"color":"#333"},{"offset":0.4167,"color":"#333"},{"offset":0.4167,"color":"#fff"},{"offset":0.4396,"color":"#fff"},{"offset":0.4396,"color":"#333"},{"offset":0.4583,"color":"#333"},{"offset":0.4583,"color":"#fff"},{"offset":0.4813,"color":"#fff"},{"offset":0.4813,"color":"#333"},{"offset":0.5,"color":"#333"},{"offset":0.5,"color":"#fff"},{"offset":0.5229,"color":"#fff"},{"offset":0.5229,"color":"#333"},{"offset":0.5417,"color":"#333"},{"offset":0.5417,"color":"#fff"},{"offset":0.5646,"color":"#fff"},{"offset":0.5646,"color":"#333"},{"offset":0.5833,"color":"#333"},{"offset":0.5833,"color":"#fff"},{"offset":0.6063,"color":"#fff"},{"offset":0.6063,"color":"#333"},{"offset":0.625,"color":"#333"},{"offset":0.625,"color":"#fff"},{"offset":0.6479,"color":"#fff"},{"offset":0.6479,"color":"#333"},{"offset":0.6667,"color":"#333"},{"offset":0.6667,"color":"#fff"},{"offset":0.6896,"color":"#fff"},{"offset":0.6896,"color":"#333"},{"offset":0.7083,"color":"#333"},{"offset":0.7083,"color":"#fff"},{"offset":0.7313,"color":"#fff"},{"offset":0.7313,"color":"#333"},{"offset":0.75,"color":"#333"},{"offset":0.75,"color":"#fff"},{"offset":0.7729,"color":"#fff"},{"offset":0.7729,"color":"#333"},{"offset":0.7917,"color":"#333"},{"offset":0.7917,"color":"#fff"},{"offset":0.8146,"color":"#fff"},{"offset":0.8146,"color":"#333"},{"offset":0.8333,"color":"#333"},{"offset":0.8333,"color":"#fff"},{"offset":0.8563,"color":"#fff"},{"offset":0.8563,"color":"#333"},{"offset":0.875,"color":"#333"},{"offset":0.875,"color":"#fff"},{"offset":0.8979,"color":"#fff"},{"offset":0.8979,"color":"#333"},{"offset":0.9167,"color":"#333"},{"offset":0.9167,"color":"#fff"},{"offset":0.9396,"color":"#fff"},{"offset":0.9396,"color":"#333"},{"offset":0.9583,"color":"#333"},{"offset":0.9583,"color":"#fff"},{"offset":0.9813,"color":"#fff"},{"offset":0.9813,"color":"#333"},{"offset":1,"color":"#333"}]}}},
    {"transform":[{"filter":"datum.grp=='a-MeDA'"}],"mark":{"type":"rule","color":"#000","strokeWidth":12,"strokeDash":[1,2]},"encoding":{"y2":{"datum":0}}},
    {"mark":{"type":"rule","color":"#000","strokeWidth":1.5},"encoding":{"y2":{"field":"cap"}}},
    {"mark":{"type":"tick","color":"#000","thickness":1.5,"size":8},"encoding":{"y":{"field":"cap","type":"quantitative","title":"Return Velocity (mm/s)"}}},
    {"transform":[{"filter":"datum.sig"}],"mark":{"type":"text","dy":15,"fontSize":12,"baseline":"alphabetic","color":"#000"},"encoding":{"y":{"field":"cap","type":"quantitative","title":"Return Velocity (mm/s)"},"text":{"field":"sig"}}}
   ]
  }
 ]}
 ]}
]
}
